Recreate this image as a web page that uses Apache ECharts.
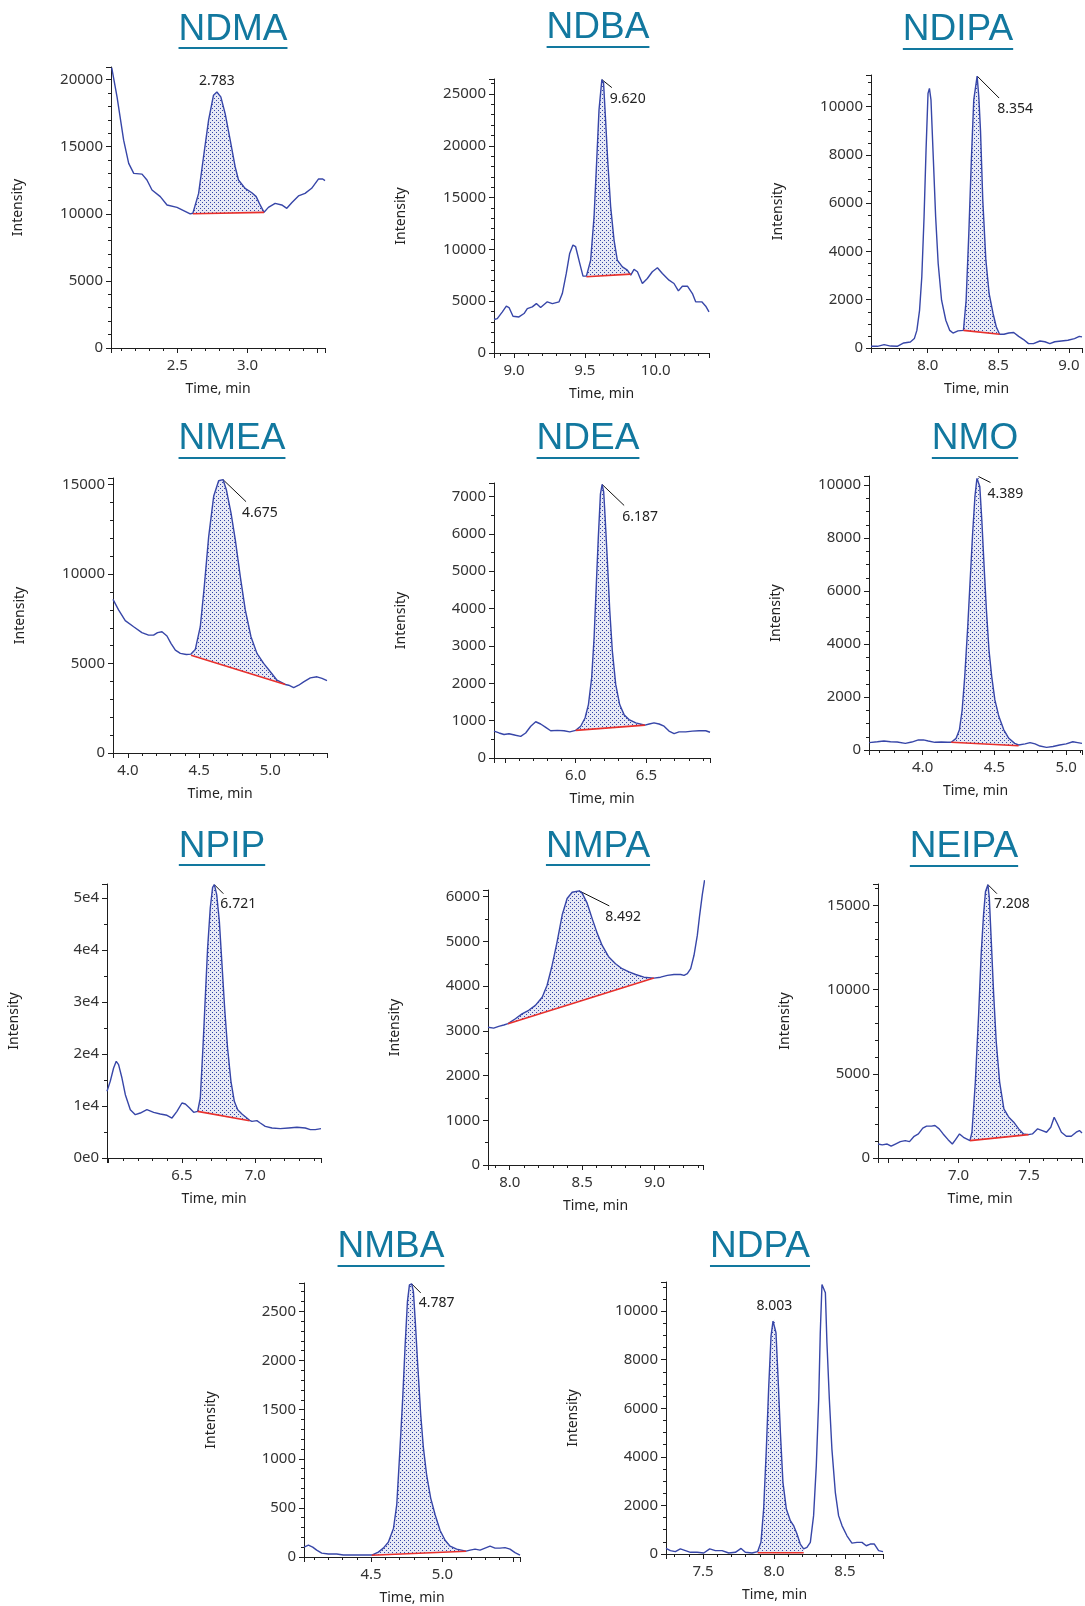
<!DOCTYPE html>
<html>
<head>
<meta charset="utf-8">
<title>Nitrosamine chromatograms</title>
<script src="https://cdn.jsdelivr.net/npm/echarts@6/dist/echarts.min.js"></script>
<style>
  html, body { margin: 0; padding: 0; background: #fff; }
  #chart { width: 1085px; height: 1606px; }
</style>
</head>
<body>
<div id="chart"></div>
<script>
const compounds = ['NDMA', 'NDBA', 'NDIPA', 'NMEA', 'NDEA', 'NMO', 'NPIP', 'NMPA', 'NEIPA', 'NMBA', 'NDPA']
const retentionLabels = ['2.783', '9.620', '8.354', '4.675', '6.187', '4.389', '6.721', '8.492', '7.208', '4.787', '8.003']

const ndmaTime = [2.033, 2.071, 2.118, 2.154, 2.190, 2.249, 2.284, 2.320, 2.379, 2.427, 2.498, 2.545, 2.592, 2.611, 2.652, 2.687, 2.723, 2.758, 2.782, 2.810, 2.841, 2.877, 2.912, 2.936, 2.983, 3.031, 3.062, 3.090, 3.118, 3.149, 3.197, 3.244, 3.280, 3.315, 3.363, 3.410, 3.457, 3.505, 3.536, 3.552]
const ndmaIntensity = [20900, 18710, 15490, 13760, 13010, 12960, 12520, 11770, 11280, 10660, 10480, 10240, 9990, 10040, 11520, 14250, 16980, 18840, 19080, 18710, 17470, 15490, 13510, 12520, 11900, 11570, 11280, 10660, 10110, 10480, 10780, 10660, 10410, 10830, 11330, 11520, 11900, 12590, 12590, 12470]
const ndmaBaseline = [[2.611, 10000], [3.118, 10110]]
const ndmaTicks = ['2.5', '3.0']

const ndbaTime = [8.859, 8.882, 8.918, 8.946, 8.965, 8.993, 9.035, 9.071, 9.094, 9.129, 9.158, 9.188, 9.235, 9.271, 9.318, 9.341, 9.369, 9.393, 9.416, 9.435, 9.464, 9.487, 9.511, 9.541, 9.565, 9.584, 9.600, 9.620, 9.632, 9.645, 9.661, 9.682, 9.706, 9.729, 9.765, 9.800, 9.824, 9.847, 9.871, 9.906, 9.941, 9.976, 10.012, 10.047, 10.094, 10.129, 10.160, 10.188, 10.224, 10.259, 10.282, 10.325, 10.353, 10.376]
const ndbaIntensity = [3230, 3320, 3970, 4520, 4390, 3550, 3480, 3810, 4290, 4450, 4770, 4390, 4940, 4770, 4940, 5740, 7680, 9610, 10420, 10260, 8650, 7420, 7420, 8970, 13160, 18650, 23480, 26390, 26070, 22840, 18650, 14130, 10900, 8970, 8320, 8000, 7520, 8070, 7840, 6710, 7190, 7840, 8230, 7680, 7030, 6710, 6000, 6450, 6450, 5740, 4940, 4940, 4520, 3970]
const ndbaBaseline = [[9.511, 7360], [9.824, 7610]]
const ndbaTicks = ['9.0', '9.5', '10.0']

const ndipaTime = [7.598, 7.644, 7.691, 7.737, 7.784, 7.830, 7.877, 7.905, 7.923, 7.942, 7.958, 7.974, 7.988, 8.002, 8.012, 8.023, 8.040, 8.056, 8.074, 8.098, 8.128, 8.156, 8.179, 8.214, 8.253, 8.272, 8.291, 8.309, 8.326, 8.350, 8.362, 8.374, 8.390, 8.412, 8.435, 8.463, 8.486, 8.509, 8.540, 8.574, 8.609, 8.644, 8.679, 8.714, 8.749, 8.795, 8.830, 8.865, 8.900, 8.947, 8.993, 9.040, 9.074, 9.093]
const ndipaIntensity = [70, 70, 140, 80, 70, 210, 250, 390, 730, 1560, 2950, 5440, 8200, 10550, 10760, 10280, 7790, 5440, 3500, 1980, 1150, 730, 620, 710, 730, 1980, 4740, 7790, 10280, 11270, 10400, 8990, 6130, 3640, 2250, 1420, 870, 570, 570, 620, 640, 480, 350, 180, 180, 290, 260, 180, 260, 290, 320, 390, 480, 460]
const ndipaBaseline = [[8.253, 730], [8.509, 570]]
const ndipaTicks = ['8.0', '8.5', '9.0']

const nmeaTime = [3.895, 3.934, 3.981, 4.040, 4.098, 4.145, 4.180, 4.208, 4.239, 4.274, 4.302, 4.333, 4.368, 4.410, 4.443, 4.473, 4.508, 4.536, 4.567, 4.602, 4.637, 4.668, 4.691, 4.724, 4.754, 4.789, 4.824, 4.864, 4.906, 4.953, 5.000, 5.047, 5.105, 5.129, 5.164, 5.199, 5.234, 5.281, 5.328, 5.363, 5.398]
const nmeaIntensity = [8590, 8000, 7400, 7060, 6730, 6590, 6590, 6730, 6780, 6540, 6130, 5750, 5570, 5510, 5530, 5790, 7060, 9300, 12100, 14350, 15220, 15280, 14720, 13410, 11920, 9860, 8000, 6500, 5570, 5010, 4540, 4070, 3830, 3790, 3660, 3790, 3980, 4200, 4260, 4170, 4050]
const nmeaBaseline = [[4.443, 5470], [5.105, 3830]]
const nmeaTicks = ['4.0', '4.5', '5.0']

const ndeaTime = [5.422, 5.458, 5.493, 5.528, 5.575, 5.611, 5.646, 5.682, 5.717, 5.752, 5.788, 5.823, 5.870, 5.917, 5.958, 6.000, 6.035, 6.066, 6.090, 6.113, 6.130, 6.146, 6.160, 6.175, 6.187, 6.198, 6.208, 6.224, 6.241, 6.259, 6.283, 6.311, 6.342, 6.377, 6.425, 6.490, 6.520, 6.554, 6.590, 6.625, 6.660, 6.696, 6.731, 6.778, 6.825, 6.873, 6.920, 6.950]
const ndeaIntensity = [720, 670, 630, 650, 610, 580, 670, 850, 970, 910, 820, 730, 740, 730, 700, 740, 850, 1070, 1430, 2150, 3220, 4660, 5910, 7070, 7320, 7120, 6450, 5280, 3940, 2870, 1970, 1430, 1160, 1030, 940, 880, 910, 940, 910, 850, 720, 650, 700, 700, 720, 730, 730, 690]
const ndeaBaseline = [[6.000, 740], [6.490, 880]]
const ndeaTicks = ['6.0', '6.5']

const nmoTime = [3.627, 3.684, 3.730, 3.776, 3.822, 3.879, 3.924, 3.970, 4.005, 4.039, 4.085, 4.130, 4.176, 4.199, 4.233, 4.256, 4.275, 4.293, 4.314, 4.332, 4.348, 4.364, 4.378, 4.389, 4.398, 4.412, 4.428, 4.444, 4.462, 4.481, 4.503, 4.531, 4.565, 4.600, 4.641, 4.668, 4.714, 4.748, 4.783, 4.817, 4.863, 4.908, 4.954, 5.000, 5.046, 5.080, 5.110]
const nmoIntensity = [280, 310, 340, 310, 300, 250, 300, 380, 380, 340, 290, 300, 290, 290, 440, 760, 1510, 2770, 4660, 6540, 8180, 9560, 10250, 10320, 9940, 8680, 6920, 5280, 3770, 2770, 1890, 1260, 760, 440, 250, 190, 230, 280, 230, 150, 100, 130, 190, 230, 310, 280, 250]
const nmoBaseline = [[4.199, 290], [4.668, 160]]
const nmoTicks = ['4.0', '4.5', '5.0']

const npipTime = [5.989, 6.011, 6.034, 6.052, 6.068, 6.091, 6.114, 6.148, 6.182, 6.216, 6.261, 6.307, 6.352, 6.398, 6.432, 6.466, 6.500, 6.523, 6.552, 6.580, 6.607, 6.625, 6.643, 6.659, 6.675, 6.693, 6.709, 6.721, 6.737, 6.755, 6.773, 6.791, 6.811, 6.834, 6.857, 6.880, 6.909, 6.961, 6.977, 7.011, 7.034, 7.068, 7.114, 7.170, 7.227, 7.284, 7.341, 7.375, 7.409, 7.448]
const npipIntensity = [12820, 14740, 17310, 18590, 17950, 15380, 12180, 9290, 8330, 8650, 9290, 8780, 8460, 8210, 7690, 8970, 10580, 10380, 9620, 8780, 8970, 11540, 21150, 30770, 40380, 48080, 52050, 52560, 50640, 45510, 37180, 28850, 21150, 14740, 10900, 9290, 8460, 7250, 7050, 7180, 6730, 6090, 5770, 5640, 5770, 5900, 5770, 5450, 5450, 5640]
const npipBaseline = [[6.607, 8970], [6.961, 7180]]
const npipTicks = ['6.5', '7.0']

const nmpaTime = [7.850, 7.889, 7.924, 7.959, 7.988, 8.039, 8.085, 8.131, 8.177, 8.224, 8.258, 8.293, 8.327, 8.362, 8.396, 8.431, 8.480, 8.500, 8.535, 8.569, 8.604, 8.638, 8.684, 8.730, 8.776, 8.823, 8.869, 8.926, 8.995, 9.041, 9.088, 9.134, 9.180, 9.203, 9.226, 9.249, 9.272, 9.295, 9.311, 9.329, 9.345]
const nmpaIntensity = [3080, 3060, 3100, 3130, 3160, 3270, 3380, 3460, 3570, 3750, 4020, 4470, 4990, 5590, 5960, 6100, 6130, 6080, 5850, 5510, 5180, 4910, 4650, 4500, 4390, 4320, 4260, 4200, 4180, 4200, 4240, 4260, 4260, 4240, 4280, 4390, 4690, 5140, 5590, 6040, 6370]
const nmpaBaseline = [[7.988, 3160], [8.995, 4180]]
const nmpaTicks = ['8.0', '8.5', '9.0']

const neipaTime = [6.430, 6.460, 6.495, 6.523, 6.553, 6.588, 6.623, 6.653, 6.686, 6.716, 6.747, 6.774, 6.809, 6.833, 6.863, 6.891, 6.926, 6.956, 6.979, 7.007, 7.035, 7.081, 7.095, 7.119, 7.142, 7.160, 7.177, 7.191, 7.208, 7.218, 7.232, 7.249, 7.267, 7.291, 7.321, 7.356, 7.391, 7.426, 7.460, 7.495, 7.523, 7.560, 7.593, 7.623, 7.653, 7.677, 7.700, 7.728, 7.763, 7.798, 7.833, 7.856, 7.874]
const neipaIntensity = [830, 780, 830, 700, 830, 970, 1030, 970, 1290, 1430, 1770, 1890, 1890, 1930, 1730, 1430, 1090, 830, 1090, 1430, 1230, 1030, 1530, 4510, 8480, 12060, 14440, 15830, 16230, 15440, 12850, 9670, 6890, 4510, 2920, 2420, 2130, 1730, 1430, 1390, 1430, 1730, 1630, 1530, 1830, 2420, 2030, 1530, 1290, 1290, 1530, 1630, 1490]
const neipaBaseline = [[7.081, 1030], [7.495, 1390]]
const neipaTicks = ['7.0', '7.5']

const nmbaTime = [4.030, 4.061, 4.091, 4.119, 4.154, 4.201, 4.259, 4.306, 4.353, 4.400, 4.446, 4.505, 4.551, 4.586, 4.621, 4.657, 4.680, 4.703, 4.722, 4.738, 4.755, 4.769, 4.785, 4.797, 4.810, 4.827, 4.848, 4.867, 4.890, 4.918, 4.949, 4.984, 5.019, 5.054, 5.100, 5.166, 5.194, 5.229, 5.264, 5.299, 5.334, 5.369, 5.404, 5.439, 5.474, 5.509, 5.544]
const nmbaIntensity = [100, 120, 100, 70, 40, 30, 30, 20, 20, 20, 20, 20, 50, 90, 150, 290, 530, 1110, 1620, 2130, 2600, 2770, 2780, 2700, 2400, 1960, 1450, 1110, 830, 600, 430, 270, 170, 110, 80, 60, 70, 80, 70, 90, 110, 90, 90, 95, 80, 45, 20]
const nmbaBaseline = [[4.505, 18], [5.166, 58]]
const nmbaTicks = ['4.5', '5.0']

const ndpaTime = [7.239, 7.270, 7.305, 7.340, 7.376, 7.411, 7.458, 7.505, 7.547, 7.587, 7.634, 7.681, 7.728, 7.768, 7.798, 7.845, 7.885, 7.908, 7.927, 7.946, 7.962, 7.979, 7.993, 8.003, 8.014, 8.028, 8.045, 8.063, 8.087, 8.115, 8.138, 8.162, 8.185, 8.209, 8.232, 8.256, 8.279, 8.298, 8.315, 8.326, 8.338, 8.350, 8.362, 8.373, 8.390, 8.408, 8.432, 8.455, 8.479, 8.514, 8.549, 8.585, 8.620, 8.650, 8.678, 8.707, 8.737, 8.768]
const ndpaIntensity = [230, 140, 100, 210, 140, 70, 70, 40, 210, 140, 140, 40, 70, 230, 70, 40, 100, 480, 1850, 4320, 6780, 8970, 9590, 9660, 9110, 7330, 5000, 2950, 1850, 1370, 1170, 820, 410, 210, 270, 480, 1580, 3630, 6370, 9110, 11100, 11160, 10760, 8700, 6370, 4320, 2540, 1580, 1170, 750, 450, 480, 480, 340, 410, 410, 140, 100]
const ndpaBaseline = [[7.885, 50], [8.209, 50]]
const ndpaTicks = ['7.5', '8.0', '8.5']

const traces = [
  [ndmaTime, ndmaIntensity, ndmaBaseline, ndmaTicks],
  [ndbaTime, ndbaIntensity, ndbaBaseline, ndbaTicks],
  [ndipaTime, ndipaIntensity, ndipaBaseline, ndipaTicks],
  [nmeaTime, nmeaIntensity, nmeaBaseline, nmeaTicks],
  [ndeaTime, ndeaIntensity, ndeaBaseline, ndeaTicks],
  [nmoTime, nmoIntensity, nmoBaseline, nmoTicks],
  [npipTime, npipIntensity, npipBaseline, npipTicks],
  [nmpaTime, nmpaIntensity, nmpaBaseline, nmpaTicks],
  [neipaTime, neipaIntensity, neipaBaseline, neipaTicks],
  [nmbaTime, nmbaIntensity, nmbaBaseline, nmbaTicks],
  [ndpaTime, ndpaIntensity, ndpaBaseline, ndpaTicks]
]

// panel geometry: grid [left, top, width, height], axis ranges, title [cx, cy, underlineY], peak label offsets
const layout = [
  { grid: [111, 67, 214, 281], x: [2.028, 3.552], yMax: 20940, yStep: 5000, yMinor: 5, title: [233, 30, 48], tag: { dx: 0, dy: -11, center: true } },
  { grid: [494, 79, 215, 274], x: [8.859, 10.376], yMax: 26450, yStep: 5000, yMinor: 5, title: [598, 28, 47], tag: { lead: [10, 8], dx: 8, dy: 19 } },
  { grid: [871, 75, 214, 273], x: [7.598, 9.093], yMax: 11314, yStep: 2000, yMinor: 4, title: [958, 30, 49], tag: { lead: [22, 22], dx: 20, dy: 33 } },
  { grid: [113, 478, 214, 275], x: [3.895, 5.398], yMax: 15374, yStep: 5000, yMinor: 5, title: [232, 439, 458], tag: { lead: [23, 22], dx: 19, dy: 33 } },
  { grid: [494, 483, 216, 275], x: [5.422, 6.950], yMax: 7359, yStep: 1000, yMinor: 2, title: [588, 439, 458], tag: { lead: [22, 21], dx: 20, dy: 33 } },
  { grid: [869, 476, 216, 274], x: [3.626, 5.11], yMax: 10340, yStep: 2000, yMinor: 4, title: [975, 439, 458], tag: { lead: [12, 6], dx: 9, dy: 17 } },
  { grid: [107, 884, 214, 274], x: [5.989, 7.448], yMax: 52692, yStep: 10000, yMinor: 2, title: [222, 847, 865], tag: { lead: [9, 9], dx: 6, dy: 19 }, sci: true },
  { grid: [488, 890, 215, 275], x: [7.850, 9.334], yMax: 6150, yStep: 1000, yMinor: 2, title: [598, 847, 865], tag: { lead: [30, 15], dx: 26, dy: 26 } },
  { grid: [878, 884, 207, 274], x: [6.430, 7.874], yMax: 16270, yStep: 5000, yMinor: 5, title: [964, 847, 866], tag: { lead: [9, 9], dx: 6, dy: 19 } },
  { grid: [304, 1283, 216, 274], x: [4.030, 5.544], yMax: 2789, yStep: 500, yMinor: 5, title: [391, 1247, 1266], tag: { lead: [9, 9], dx: 7, dy: 19 } },
  { grid: [666, 1282, 217, 272], x: [7.239, 8.768], yMax: 11200, yStep: 2000, yMinor: 4, title: [760, 1247, 1266], tag: { dx: 0, dy: -13, center: true } }
]

const TRACE = '#3746a8'
const BASE = '#e8302c'
const TITLE = '#12789f'
const AXIS = '#1e1e1e'
const FONT = '"Noto Sans", "DejaVu Sans", sans-serif'
const TITLE_FONT = '"Liberation Sans", Arial, sans-serif'

// dotted fill used for the integrated peak area
const tile = document.createElement('canvas')
tile.width = 4
tile.height = 4
const tctx = tile.getContext('2d')
tctx.fillStyle = 'rgba(70, 85, 175, 0.13)'
tctx.fillRect(0, 0, 4, 4)
tctx.fillStyle = TRACE
tctx.fillRect(0, 0, 1, 1)
tctx.fillRect(2, 2, 1, 1)
const dots = { image: tile, repeat: 'repeat' }

const measure = document.createElement('canvas').getContext('2d')
measure.font = '37px ' + TITLE_FONT

function onStep(v, step) {
  const k = v / step
  return Math.abs(k - Math.round(k)) < 1e-6
}

const grids = []
const xAxes = []
const yAxes = []
const series = []
const graphics = []

layout.forEach((L, i) => {
  const [time, intensity, baseline, ticks] = traces[i]
  grids.push({ left: L.grid[0], top: L.grid[1], width: L.grid[2], height: L.grid[3] })

  xAxes.push({
    gridIndex: i,
    type: 'value',
    min: L.x[0],
    max: L.x[1],
    minInterval: 0.5,
    maxInterval: 0.5,
    name: 'Time, min',
    nameLocation: 'middle',
    nameGap: 34,
    nameTextStyle: { fontSize: 14, color: '#222', fontFamily: FONT },
    axisLine: { onZero: false, lineStyle: { color: AXIS, width: 1 } },
    axisTick: { length: 5, lineStyle: { color: AXIS } },
    minorTick: { show: true, splitNumber: 5, length: 3, lineStyle: { color: AXIS } },
    splitLine: { show: false },
    axisLabel: {
      margin: 10, fontSize: 15, color: '#333', fontFamily: FONT,
      formatter: v => {
        const s = v.toFixed(1)
        return onStep(v, 0.5) && ticks.includes(s) ? s : ''
      }
    }
  })

  yAxes.push({
    gridIndex: i,
    type: 'value',
    min: 0,
    max: L.yMax,
    interval: L.yStep,
    name: 'Intensity',
    nameLocation: 'middle',
    nameGap: 86,
    nameTextStyle: { fontSize: 14, color: '#222', fontFamily: FONT },
    axisLine: { show: true, lineStyle: { color: AXIS, width: 1 } },
    axisTick: { show: true, length: 5, lineStyle: { color: AXIS } },
    minorTick: { show: true, splitNumber: L.yMinor, length: 3, lineStyle: { color: AXIS } },
    splitLine: { show: false },
    axisLabel: {
      margin: 8, fontSize: 15, color: '#333', fontFamily: FONT,
      formatter: v => {
        if (!onStep(v, L.yStep)) return ''
        if (L.sci) return v === 0 ? '0e0' : Math.round(v / 1e4) + 'e4'
        return String(v)
      }
    }
  })

  // integrated area, apex marker line and retention-time label
  series.push({
    type: 'custom',
    xAxisIndex: i,
    yAxisIndex: i,
    silent: true,
    z: 2,
    data: [baseline[0]],
    renderItem: (params, api) => {
      const [b0, b1] = baseline
      const pts = [api.coord(b0)]
      let apex = null
      time.forEach((t, k) => {
        if (t >= b0[0] && t <= b1[0]) {
          pts.push(api.coord([t, intensity[k]]))
          if (!apex || intensity[k] > apex[1]) apex = [t, intensity[k]]
        }
      })
      pts.push(api.coord(b1))
      const a = api.coord(apex)
      const T = L.tag
      const children = [{ type: 'polygon', shape: { points: pts }, style: { fill: dots, stroke: null } }]
      if (T.lead) {
        children.push({
          type: 'line',
          shape: { x1: a[0], y1: a[1], x2: a[0] + T.lead[0], y2: a[1] + T.lead[1] },
          style: { stroke: '#111', lineWidth: 1 }
        })
      }
      children.push({
        type: 'text',
        style: {
          text: retentionLabels[i],
          x: a[0] + T.dx,
          y: a[1] + T.dy,
          fill: '#222',
          fontSize: 14,
          fontFamily: FONT,
          align: T.center ? 'center' : 'left',
          verticalAlign: 'middle'
        }
      })
      return { type: 'group', children }
    }
  })

  series.push({
    type: 'line',
    xAxisIndex: i,
    yAxisIndex: i,
    data: time.map((t, k) => [t, intensity[k]]),
    symbol: 'none',
    clip: false,
    z: 3,
    lineStyle: { color: TRACE, width: 1.4 }
  })

  series.push({
    type: 'line',
    xAxisIndex: i,
    yAxisIndex: i,
    data: baseline,
    symbol: 'none',
    z: 4,
    lineStyle: { color: BASE, width: 1.6 }
  })

  const w = measure.measureText(compounds[i]).width
  graphics.push({
    type: 'text',
    x: L.title[0],
    y: L.title[1],
    style: {
      text: compounds[i], fill: TITLE, fontSize: 37, fontFamily: TITLE_FONT,
      textAlign: 'center', textVerticalAlign: 'middle', align: 'center', verticalAlign: 'middle'
    }
  })
  graphics.push({
    type: 'line',
    shape: { x1: L.title[0] - w / 2, y1: L.title[2], x2: L.title[0] + w / 2, y2: L.title[2] },
    style: { stroke: TITLE, lineWidth: 2 }
  })
})

const chart = echarts.init(document.getElementById('chart'), null, { renderer: 'canvas' })
chart.setOption({
  animation: false,
  backgroundColor: '#fff',
  grid: grids,
  xAxis: xAxes,
  yAxis: yAxes,
  series: series,
  graphic: graphics
})
</script>
</body>
</html>
